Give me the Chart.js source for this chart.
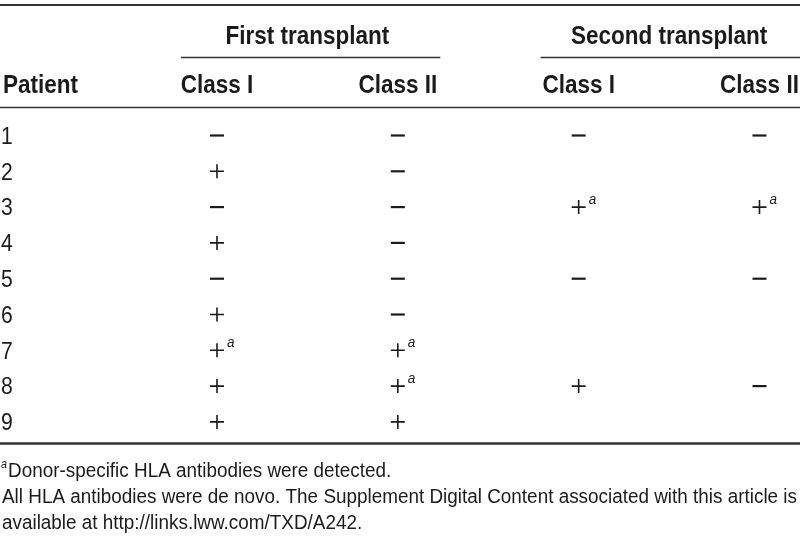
<!DOCTYPE html>
<html>
<head>
<meta charset="utf-8">
<script src="https://cdn.jsdelivr.net/npm/chart.js@4.4.1/dist/chart.umd.min.js"></script>
<style>
  html, body { margin: 0; background: #fff; }
  #wrap { width: 800px; height: 538px; }
</style>
</head>
<body>
<div id="wrap"><canvas id="hlaTable"></canvas></div>
<script>
// table content
const patients = [1, 2, 3, 4, 5, 6, 7, 8, 9];
const groups = ['First transplant', 'Second transplant'];
const columns = ['Class I', 'Class II', 'Class I', 'Class II'];
const firstClassI   = ['−', '+', '−', '+', '−', '+', '+a', '+', '+'];
const firstClassII  = ['−', '−', '−', '−', '−', '−', '+a', '+a', '+'];
const secondClassI  = ['−', '', '+a', '', '−', '', '', '+', ''];
const secondClassII = ['−', '', '+a', '', '−', '', '', '−', ''];
const footnotes = [
  'Donor-specific HLA antibodies were detected.',
  'All HLA antibodies were de novo. The Supplement Digital Content associated with this article is',
  'available at http://links.lww.com/TXD/A242.'
];

const INK = '#1b1b1b';
const SANS = '"Liberation Sans", Arial, sans-serif';

const cells = [firstClassI, firstClassII, secondClassI, secondClassII];

const datasets = cells.map((col, c) => ({
  label: columns[c],
  data: col.map((v, r) => ({ x: c + 1, y: patients[r], v }))
           .filter(p => p.v !== ''),
  pointStyle: ctx => ctx.raw.v.startsWith('+') ? 'cross' : 'line',
  pointRadius: 7,
  pointHoverRadius: 7,
  borderColor: INK,
  backgroundColor: INK,
  borderWidth: ctx => ctx.raw.v.startsWith('+') ? 1.6 : 2.2
}));

// narrow text: Liberation Sans squeezed horizontally
function squeezed(ctx, str, px, py, sx, align) {
  ctx.save();
  ctx.translate(px, py);
  ctx.scale(sx, 1);
  ctx.textAlign = align;
  ctx.fillText(str, 0, 0);
  ctx.restore();
}

const tableText = {
  id: 'tableText',
  afterDraw(chart) {
    const { ctx, scales: { x, y } } = chart;
    const left = x.getPixelForValue(x.min);
    const right = x.getPixelForValue(x.max);
    ctx.save();
    ctx.fillStyle = INK;
    ctx.strokeStyle = '#333';

    const rule = (yv, x0, x1, w) => {
      const py = Math.round(y.getPixelForValue(yv)) + (w % 2 ? 0.5 : 0);
      ctx.lineWidth = w;
      ctx.beginPath();
      ctx.moveTo(x0, py);
      ctx.lineTo(x1, py);
      ctx.stroke();
    };
    rule(-2.645, left, right, 2);
    rule(-1.19, x.getPixelForValue(0.8), x.getPixelForValue(2.235), 1.5);
    rule(-1.19, x.getPixelForValue(2.79), right, 1.5);
    rule(0.2, left, right, 1.5);
    rule(9.6, left, right, 2.5);

    // headers
    ctx.font = 'bold 25px ' + SANS;
    ctx.textBaseline = 'middle';
    groups.forEach((g, i) => {
      squeezed(ctx, g, x.getPixelForValue(1.5 + 2 * i), y.getPixelForValue(-1.75), 0.9, 'center');
    });
    columns.forEach((c, i) => {
      squeezed(ctx, c, x.getPixelForValue(i + 1), y.getPixelForValue(-0.39), 0.9, 'center');
    });
    squeezed(ctx, 'Patient', left + 3, y.getPixelForValue(-0.39), 0.9, 'left');

    // patient numbers
    ctx.font = '23px ' + SANS;
    patients.forEach(p => {
      squeezed(ctx, String(p), left + 1, y.getPixelForValue(p) + 2, 0.92, 'left');
    });

    // superscripts on marked cells
    ctx.font = 'italic 15px ' + SANS;
    ctx.textBaseline = 'alphabetic';
    chart.data.datasets.forEach((ds, i) => {
      chart.getDatasetMeta(i).data.forEach((pt, j) => {
        if (ds.data[j].v.endsWith('a')) squeezed(ctx, 'a', pt.x + 10, pt.y - 3, 0.9, 'left');
      });
    });

    // footnotes
    ctx.font = 'italic 12px ' + SANS;
    squeezed(ctx, 'a', left + 1, y.getPixelForValue(10.29), 0.9, 'left');
    ctx.font = '20px ' + SANS;
    const fsx = 795 / ctx.measureText(footnotes[1]).width;
    squeezed(ctx, footnotes[0], left + 8, y.getPixelForValue(10.55), fsx, 'left');
    squeezed(ctx, footnotes[1], left + 2, y.getPixelForValue(11.27), fsx, 'left');
    squeezed(ctx, footnotes[2], left + 2, y.getPixelForValue(12.0), fsx, 'left');
    ctx.restore();
  }
};

new Chart(document.getElementById('hlaTable'), {
  type: 'scatter',
  data: { datasets },
  options: {
    responsive: true,
    maintainAspectRatio: false,
    animation: false,
    events: [],
    layout: { padding: 0, autoPadding: false },
    plugins: { legend: { display: false }, tooltip: { enabled: false } },
    scales: {
      x: { type: 'linear', min: -0.2, max: 4.224, display: false },
      y: { type: 'linear', min: -2.785, max: 12.243, reverse: true, display: false }
    }
  },
  plugins: [tableText]
});
</script>
</body>
</html>
